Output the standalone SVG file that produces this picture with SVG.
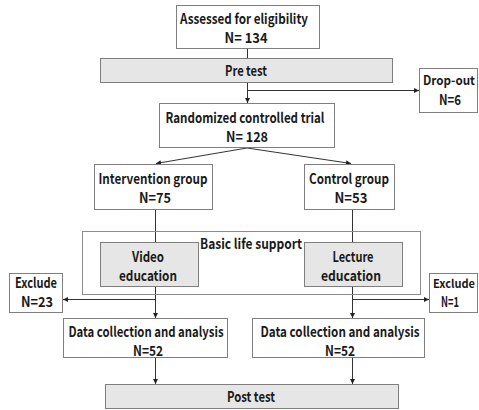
<svg xmlns="http://www.w3.org/2000/svg" width="479" height="410" viewBox="0 0 479 410">
<defs>
<marker id="ah" viewBox="0 0 6 6" refX="6" refY="3" markerWidth="5" markerHeight="5" markerUnits="userSpaceOnUse" orient="auto">
<path d="M0,0 L6,3 L0,6 z" fill="#222"/>
</marker>
<style>
.box{fill:#fff;stroke:#7f7f7f;stroke-width:1}
.gbox{fill:#e6e6e6;stroke:#7f7f7f;stroke-width:1}
.frame{fill:none;stroke:#8c8c8c;stroke-width:1}
text{font-family:"Noto Sans CJK KR","Malgun Gothic","Open Sans",sans-serif;font-size:14px;font-weight:600;fill:#1a1a1a;text-anchor:middle}
.sm{font-size:12.5px}
.xs{font-size:11.5px}
.ln{fill:none;stroke:#333;stroke-width:1}
.ar{fill:none;stroke:#333;stroke-width:1;marker-end:url(#ah)}
</style>
</defs>
<rect width="479" height="410" fill="#fff"/>
<g id="connectors">
<path class="ln" d="M247.5,49 V58"/>
<path class="ar" d="M247.5,83 V103"/>
<path class="ar" d="M247.5,90.5 H419"/>
<path class="ar" d="M247,148 L156,163.5"/>
<path class="ar" d="M247,148 L351,163.5"/>
<path class="ln" d="M155.5,210 V242"/>
<path class="ln" d="M352.5,210 V242"/>
<path class="ar" d="M155.5,287 V318"/>
<path class="ar" d="M155.5,299.5 H63"/>
<path class="ar" d="M352.5,287 V318"/>
<path class="ar" d="M352.5,299.5 H429"/>
<path class="ar" d="M155.5,358 V384"/>
<path class="ar" d="M352.5,358 V384"/>
</g>
<g id="assessed">
<rect class="box" x="176.5" y="5.5" width="143" height="43"/>
<text x="244" y="24" textLength="128" lengthAdjust="spacingAndGlyphs">Assessed for eligibility</text>
<text x="246" y="43" textLength="43" lengthAdjust="spacingAndGlyphs">N= 134</text>
</g>
<g id="pretest">
<rect class="gbox" x="100.5" y="58.5" width="292" height="24"/>
<text x="246" y="76" textLength="42" lengthAdjust="spacingAndGlyphs">Pre test</text>
</g>
<g id="dropout">
<rect class="box" x="419.5" y="68.5" width="58" height="44"/>
<text class="sm" x="449" y="85" textLength="52" lengthAdjust="spacingAndGlyphs">Drop-out</text>
<text x="450" y="105" textLength="22" lengthAdjust="spacingAndGlyphs">N=6</text>
</g>
<g id="rct">
<rect class="box" x="159.5" y="103.5" width="175" height="44"/>
<text x="245" y="123" textLength="159" lengthAdjust="spacingAndGlyphs">Randomized controlled trial</text>
<text x="247" y="142" textLength="42" lengthAdjust="spacingAndGlyphs">N= 128</text>
</g>
<g id="intervention">
<rect class="box" x="94.5" y="164.5" width="118" height="45"/>
<text x="153" y="184" textLength="109" lengthAdjust="spacingAndGlyphs">Intervention group</text>
<text x="155" y="203" textLength="32" lengthAdjust="spacingAndGlyphs">N=75</text>
</g>
<g id="control">
<rect class="box" x="304.5" y="164.5" width="90" height="45"/>
<text x="349" y="184" textLength="80" lengthAdjust="spacingAndGlyphs">Control group</text>
<text x="351" y="203" textLength="33" lengthAdjust="spacingAndGlyphs">N=53</text>
</g>
<g id="bls">
<rect class="frame" x="82.5" y="231.5" width="338" height="63"/>
<text x="251" y="249" textLength="102" lengthAdjust="spacingAndGlyphs">Basic life support</text>
</g>
<g id="video">
<rect class="gbox" x="100.5" y="242.5" width="98" height="44"/>
<text x="148" y="262" textLength="32" lengthAdjust="spacingAndGlyphs">Video</text>
<text x="148" y="281" textLength="58" lengthAdjust="spacingAndGlyphs">education</text>
</g>
<g id="lecture">
<rect class="gbox" x="304.5" y="242.5" width="98" height="44"/>
<text x="353" y="262" textLength="41" lengthAdjust="spacingAndGlyphs">Lecture</text>
<text x="351" y="281" textLength="60" lengthAdjust="spacingAndGlyphs">education</text>
</g>
<g id="exclude-left">
<rect class="box" x="9.5" y="273.5" width="53" height="39"/>
<text x="36" y="288" textLength="42" lengthAdjust="spacingAndGlyphs">Exclude</text>
<text x="37" y="307" textLength="32" lengthAdjust="spacingAndGlyphs">N=23</text>
</g>
<g id="exclude-right">
<rect class="box" x="429.5" y="273.5" width="48" height="39"/>
<text class="xs" x="454" y="288" textLength="42" lengthAdjust="spacingAndGlyphs">Exclude</text>
<text x="450" y="307" textLength="18" lengthAdjust="spacingAndGlyphs">N=1</text>
</g>
<g id="data-left">
<rect class="box" x="63.5" y="318.5" width="164" height="39"/>
<text x="146" y="337" textLength="155" lengthAdjust="spacingAndGlyphs">Data collection and analysis</text>
<text x="148" y="356" textLength="30" lengthAdjust="spacingAndGlyphs">N=52</text>
</g>
<g id="data-right">
<rect class="box" x="252.5" y="318.5" width="172" height="39"/>
<text x="340" y="337" textLength="159" lengthAdjust="spacingAndGlyphs">Data collection and analysis</text>
<text x="340" y="356" textLength="30" lengthAdjust="spacingAndGlyphs">N=52</text>
</g>
<g id="posttest">
<rect class="gbox" x="105.5" y="384.5" width="293" height="24"/>
<text x="251" y="402" textLength="48" lengthAdjust="spacingAndGlyphs">Post test</text>
</g>
</svg>
